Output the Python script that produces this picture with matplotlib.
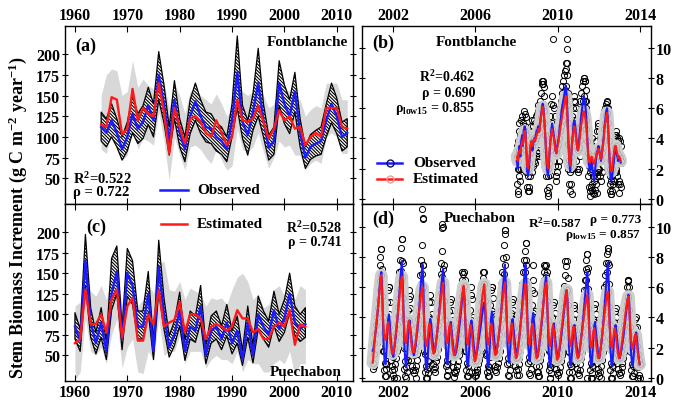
import numpy as np
import matplotlib
matplotlib.use('Agg')
import matplotlib.pyplot as plt
from matplotlib.lines import Line2D

plt.rcParams['font.family'] = ['Liberation Serif', 'DejaVu Serif']
plt.rcParams['font.weight'] = 'bold'
plt.rcParams['mathtext.fontset'] = 'custom'
plt.rcParams['mathtext.rm'] = 'Liberation Serif:bold'
plt.rcParams['mathtext.it'] = 'Liberation Serif:bold'
plt.rcParams['mathtext.bf'] = 'Liberation Serif:bold'
plt.rcParams['hatch.linewidth'] = 0.8

# ---------------- Panel (a): Fontblanche annual ----------------
a_years = list(range(1965, 2013))
a_obs = [112, 105, 120, 105, 85, 100, 128, 110, 118, 138, 120, 175, 140, 95, 145, 105,
         85, 125, 143, 125, 112, 110, 100, 95, 85, 120, 178, 118, 102, 130, 165, 120,
         87, 95, 165, 140, 125, 155, 105, 75, 88, 92, 95, 120, 140, 125, 100, 105]
a_est = [115, 112, 148, 145, 103, 110, 158, 120, 135, 128, 125, 165, 130, 80, 135, 112,
         92, 122, 125, 118, 105, 100, 120, 105, 90, 100, 145, 120, 118, 122, 138, 118,
         98, 110, 132, 120, 125, 110, 112, 90, 100, 105, 100, 135, 135, 135, 112, 110]
a_obs_hi = [130, 122, 140, 122, 100, 118, 150, 128, 138, 160, 140, 203, 163, 112, 168, 122,
            100, 145, 165, 145, 130, 128, 117, 112, 100, 140, 222, 138, 120, 152, 207, 140,
            102, 112, 192, 163, 145, 178, 122, 88, 103, 108, 112, 140, 165, 147, 118, 122]
a_obs_lo = [95, 88, 100, 88, 72, 83, 105, 92, 98, 115, 100, 145, 117, 78, 122, 88,
            70, 104, 120, 104, 94, 92, 83, 79, 70, 100, 135, 98, 78, 108, 125, 100,
            72, 79, 138, 116, 104, 130, 88, 62, 73, 77, 79, 100, 117, 104, 83, 88]
a_est_hi = [150, 175, 182, 180, 150, 155, 192, 160, 170, 162, 158, 185, 165, 135, 165, 150,
            128, 155, 158, 150, 145, 140, 152, 140, 125, 135, 175, 155, 150, 155, 168, 150,
            135, 140, 165, 158, 155, 145, 145, 125, 133, 138, 135, 165, 165, 165, 145, 145]
a_est_lo = [85, 80, 110, 105, 72, 78, 118, 85, 98, 95, 90, 130, 95, 48, 100, 78,
            60, 88, 90, 85, 75, 68, 85, 72, 60, 65, 110, 85, 82, 88, 105, 82,
            62, 75, 95, 88, 90, 78, 78, 60, 68, 72, 68, 100, 105, 100, 80, 80]

# ---------------- Panel (c): Puechabon annual ----------------
c_years = list(range(1960, 2005))
c_obs = [85, 68, 165, 90, 65, 90, 55, 125, 152, 70, 150, 135, 85, 85, 125, 55, 158, 100,
         60, 75, 105, 55, 85, 80, 110, 50, 80, 85, 70, 90, 65, 80, 45, 90, 50, 100, 85, 75,
         105, 82, 95, 125, 90, 82, 88]
c_est = [65, 70, 130, 88, 88, 100, 78, 118, 130, 72, 110, 120, 68, 68, 100, 88, 130, 85,
         90, 93, 115, 78, 100, 100, 95, 70, 85, 88, 85, 80, 85, 105, 95, 95, 78, 82, 70, 70,
         85, 90, 85, 105, 63, 88, 85]
c_obs_hi = [102, 82, 197, 108, 78, 108, 67, 168, 183, 84, 180, 165, 104, 104, 152, 66, 190, 120,
            74, 92, 127, 68, 104, 98, 135, 62, 98, 104, 86, 112, 80, 98, 56, 110, 62, 122, 104, 92,
            128, 100, 118, 150, 110, 100, 108]
c_obs_lo = [70, 55, 135, 72, 52, 72, 45, 105, 125, 57, 122, 112, 70, 70, 102, 45, 128, 82,
            48, 62, 86, 44, 70, 66, 90, 40, 65, 70, 57, 74, 52, 65, 38, 72, 41, 82, 70, 60,
            86, 67, 78, 102, 74, 67, 72]
c_est_hi = [110, 115, 155, 128, 122, 135, 118, 145, 150, 112, 130, 140, 110, 118, 138, 125, 160, 165,
            130, 128, 140, 118, 132, 128, 125, 110, 120, 118, 120, 112, 130, 145, 150, 140, 118, 125,
            108, 112, 130, 135, 122, 140, 118, 135, 130]
c_est_lo = [20, 30, 95, 55, 50, 60, 40, 75, 95, 35, 60, 70, 30, 28, 55, 45, 95, 50,
            55, 55, 75, 40, 55, 55, 55, 35, 45, 50, 45, 45, 40, 55, 30, 45, 40, 40,
            30, 30, 40, 45, 40, 55, 25, 40, 40]

# ---------------- Panel (b): Fontblanche, half-monthly from 2008 ----------------
b_start = 2008.0
b_obs = [2.5, 2.0, 3.0, 3.5, 2.8, 3.8, 4.2, 3.5, 4.5, 4.8, 4.6, 3.2, 1.8, 1.5, 2.0, 2.8, 3.5, 3.8, 3.2, 3.6, 4.0, 3.8, 4.2, 4.5,
         4.6, 4.8, 4.5, 5.0, 5.5, 5.9, 6.3, 6.0, 5.2, 4.2, 3.0, 2.0, 1.5, 2.0, 3.0, 3.8, 4.5, 5.0, 4.6, 4.2, 3.8, 3.2, 3.0, 3.5,
         3.8, 4.2, 4.8, 5.2, 5.8, 6.2, 6.5, 6.8, 7.2, 7.5, 6.8, 5.5, 3.8, 2.5, 1.8, 2.5, 3.5, 4.2, 5.0, 5.2, 4.8, 4.2, 3.5, 3.2,
         3.5, 4.2, 4.8, 5.5, 6.0, 6.5, 6.8, 6.5, 6.0, 5.2, 4.0, 3.0, 2.2, 1.8, 2.0, 2.5, 2.0, 1.5, 1.2, 1.8, 2.5, 3.0, 3.2, 3.5,
         3.2, 2.8, 2.5, 3.0, 3.5, 4.0, 4.8, 5.2, 5.8, 6.0, 5.2, 3.8, 2.5, 1.5, 1.2, 1.5, 2.0, 2.5, 3.2, 3.5, 3.0, 2.8, 2.5, 2.8,
         2.6, 2.4]
b_est = [2.8, 2.5, 3.0, 3.2, 3.0, 3.5, 3.8, 3.6, 4.2, 4.5, 4.2, 3.2, 2.2, 2.0, 2.4, 3.0, 3.6, 3.8, 3.5, 3.8, 4.0, 3.8, 4.0, 4.2,
         4.4, 4.6, 4.4, 4.9, 5.4, 5.8, 6.1, 5.8, 5.0, 4.2, 3.2, 2.4, 2.0, 2.4, 3.2, 3.8, 4.3, 4.6, 4.3, 4.0, 3.6, 3.2, 3.0, 3.4,
         3.6, 4.0, 4.5, 4.8, 5.2, 5.6, 5.9, 6.2, 6.5, 6.8, 6.2, 5.0, 3.6, 2.6, 2.2, 2.8, 3.5, 4.0, 4.6, 4.8, 4.5, 4.0, 3.5, 3.2,
         3.4, 3.9, 4.4, 4.9, 5.3, 5.6, 5.8, 5.6, 5.2, 4.6, 3.8, 3.0, 2.5, 2.4, 2.6, 2.8, 2.6, 2.4, 2.3, 2.5, 2.8, 3.0, 3.1, 3.3,
         3.1, 2.8, 2.6, 3.0, 3.4, 3.9, 4.6, 5.0, 5.5, 5.7, 5.0, 3.8, 2.6, 2.0, 1.8, 2.0, 2.6, 3.0, 3.4, 3.5, 3.2, 3.0, 2.7, 2.8,
         2.7, 2.5]
b_obs_hi = [3.5, 3.8, 4.5, 5.0, 4.2, 5.2, 5.5, 5.0, 5.8, 5.6, 5.4, 4.5, 3.0, 2.5, 3.2, 4.0, 4.8, 5.2, 4.5, 4.8, 5.2, 5.0, 5.5, 5.6,
            5.8, 6.2, 6.0, 6.5, 7.0, 7.6, 7.8, 7.4, 6.8, 5.8, 4.5, 3.2, 2.8, 3.4, 4.5, 5.5, 6.3, 6.8, 6.2, 6.0, 5.5, 4.8, 4.5, 5.0,
            5.0, 5.5, 6.0, 6.5, 7.0, 7.5, 7.8, 8.2, 8.5, 9.0, 8.2, 7.0, 5.5, 4.5, 3.5, 4.5, 5.5, 6.0, 6.5, 6.8, 6.4, 6.0, 5.0, 4.5,
            5.0, 5.8, 6.5, 7.0, 7.5, 7.8, 8.0, 7.8, 7.2, 6.5, 5.5, 4.5, 3.5, 3.0, 3.5, 4.0, 3.5, 3.0, 2.5, 3.0, 3.8, 4.5, 4.8, 5.0,
            4.5, 4.0, 3.8, 4.2, 4.8, 5.2, 5.8, 6.0, 6.3, 6.5, 6.0, 5.0, 3.5, 2.5, 2.2, 2.5, 3.0, 3.5, 4.2, 4.5, 4.2, 4.0, 3.8, 4.0,
            3.8, 3.5]
b_obs_lo = [1.0, 0.5, 1.5, 2.0, 1.2, 2.0, 2.8, 2.0, 3.0, 3.2, 3.0, 1.8, 0.8, 0.5, 0.8, 1.5, 2.2, 2.5, 1.8, 2.2, 2.5, 2.4, 2.8, 3.0,
            3.0, 3.2, 2.8, 3.4, 3.8, 4.2, 4.6, 4.2, 3.5, 2.6, 1.5, 0.6, 0.4, 0.8, 1.6, 2.3, 3.0, 3.2, 3.0, 2.5, 2.2, 1.5, 1.2, 1.8,
            2.2, 2.5, 3.2, 3.5, 4.2, 4.8, 5.0, 5.2, 5.5, 5.8, 5.0, 3.8, 2.0, 1.0, 0.5, 1.0, 2.0, 2.5, 3.2, 3.5, 3.0, 2.5, 2.0, 1.8,
            2.0, 2.8, 3.2, 3.8, 4.5, 5.0, 5.2, 5.0, 4.5, 3.8, 2.5, 1.5, 0.8, 0.5, 0.8, 1.0, 0.6, 0.4, 0.3, 0.6, 1.0, 1.5, 1.8, 2.0,
            2.0, 1.5, 1.2, 1.8, 2.2, 2.5, 3.2, 3.8, 4.2, 4.5, 3.8, 2.2, 1.0, 0.5, 0.3, 0.5, 1.0, 1.2, 1.8, 2.0, 1.8, 1.5, 1.0, 1.2,
            1.0, 0.8]
b_out_t = [2009.78, 2010.43, 2010.46, 2010.43, 2010.42, 2009.25, 2009.30, 2011.30, 2011.32, 2012.40,
           2008.05, 2008.60, 2009.55, 2010.70, 2011.55, 2011.90, 2012.60, 2013.00]
b_out_v = [10.6, 10.6, 9.9, 9.0, 8.6, 7.8, 7.6, 8.0, 7.8, 6.4,
           0.3, 0.5, 0.2, 0.3, 0.2, 0.4, 0.3, 0.4]

# ---------------- Panel (d): Puechabon, half-monthly from 2001 ----------------
d_start = 2001.0
d_obs = [
    1.8, 2.0, 2.4, 2.9, 3.3, 3.9, 4.5, 5.2, 6.0, 6.6, 7.0, 5.9, 3.6, 1.8, 1.0, 0.9, 1.8, 3.0, 3.9, 4.2, 3.5, 2.6, 2.0, 1.6,
    1.4, 1.9, 2.3, 2.8, 3.4, 4.0, 4.8, 5.6, 6.4, 7.1, 7.7, 6.2, 4.0, 2.0, 1.1, 0.7, 1.4, 2.6, 3.5, 3.8, 3.2, 2.7, 2.1, 1.7,
    1.5, 1.8, 2.1, 2.7, 3.1, 3.8, 4.4, 5.3, 6.2, 6.9, 7.5, 6.0, 3.5, 1.6, 0.8, 0.6, 1.2, 2.4, 3.3, 3.9, 3.6, 2.9, 2.3, 1.9,
    1.7, 2.0, 2.5, 2.9, 3.5, 4.1, 4.7, 5.4, 6.1, 6.7, 7.2, 6.0, 4.1, 2.2, 1.2, 0.9, 1.6, 2.7, 3.4, 3.7, 3.1, 2.5, 2.0, 1.7,
    1.5, 1.7, 2.0, 2.4, 2.9, 3.4, 3.9, 4.5, 5.1, 5.6, 6.0, 5.2, 3.4, 1.8, 1.0, 0.8, 1.5, 2.6, 3.4, 3.8, 3.3, 2.6, 2.0, 1.6,
    1.4, 1.6, 1.9, 2.3, 2.7, 3.1, 3.5, 4.0, 4.4, 4.8, 5.0, 4.4, 3.0, 1.6, 0.8, 0.7, 1.6, 3.0, 4.0, 4.4, 3.7, 2.9, 2.2, 1.8,
    1.6, 2.0, 2.4, 2.8, 3.3, 3.9, 4.6, 5.4, 6.2, 6.9, 7.5, 6.3, 4.2, 2.3, 1.3, 1.0, 1.7, 2.8, 3.6, 3.9, 3.3, 2.7, 2.1, 1.7,
    1.5, 1.9, 2.3, 2.8, 3.4, 4.0, 4.7, 5.5, 6.3, 7.0, 7.5, 6.4, 4.3, 2.4, 1.4, 1.1, 1.8, 3.0, 3.9, 4.3, 3.6, 2.8, 2.1, 1.6,
    1.4, 1.7, 2.1, 2.6, 3.1, 3.7, 4.3, 5.0, 5.7, 6.3, 6.8, 5.6, 3.6, 1.8, 0.9, 0.7, 1.4, 2.5, 3.3, 3.6, 3.0, 2.4, 1.9, 1.5,
    1.3, 1.6, 2.0, 2.4, 2.9, 3.4, 3.9, 4.5, 5.0, 5.5, 5.8, 5.0, 3.3, 1.7, 0.9, 0.8, 1.5, 2.5, 3.2, 3.5, 3.0, 2.4, 1.9, 1.5,
    1.4, 1.8, 2.2, 2.7, 3.2, 3.8, 4.4, 5.1, 5.8, 6.5, 7.0, 5.9, 3.8, 1.9, 1.0, 0.8, 1.5, 2.6, 3.4, 3.7, 3.1, 2.5, 1.9, 1.5,
    1.3, 1.7, 2.1, 2.6, 3.2, 3.9, 4.6, 5.4, 6.2, 7.0, 7.6, 6.2, 3.9, 1.9, 1.0, 0.8, 1.5, 2.5, 3.2, 3.5, 3.0, 2.4, 1.9, 1.5,
    1.3, 1.6, 1.9, 2.3, 2.7, 3.2, 3.7, 4.2, 4.7, 5.2, 5.5, 4.8, 3.2, 1.7, 0.9, 0.8, 1.4, 2.2, 2.8, 3.0, 2.5, 1.9, 1.3, 0.9]
d_est = [
    1.0, 1.6, 2.3, 2.9, 3.5, 4.0, 4.6, 5.2, 5.8, 6.4, 6.8, 5.4, 4.0, 3.0, 2.6, 2.5, 2.9, 3.4, 3.7, 3.4, 2.8, 2.2, 1.8, 1.6,
    1.7, 2.0, 2.5, 3.0, 3.6, 4.1, 4.7, 5.3, 5.9, 6.4, 6.7, 5.3, 3.9, 2.9, 2.4, 2.3, 2.8, 3.4, 3.8, 3.5, 2.9, 2.3, 1.9, 1.7,
    1.7, 2.0, 2.4, 2.9, 3.4, 3.9, 4.4, 4.9, 5.4, 5.8, 6.0, 4.9, 3.6, 2.7, 2.2, 2.1, 2.6, 3.2, 3.6, 3.4, 2.8, 2.2, 1.8, 1.6,
    1.7, 2.1, 2.5, 3.0, 3.5, 4.0, 4.5, 5.0, 5.6, 6.0, 6.3, 5.1, 3.8, 2.9, 2.4, 2.3, 2.8, 3.3, 3.6, 3.3, 2.7, 2.1, 1.7, 1.5,
    1.6, 2.0, 2.4, 2.9, 3.4, 3.9, 4.4, 4.9, 5.4, 5.8, 6.1, 5.0, 3.7, 2.8, 2.3, 2.2, 2.7, 3.2, 3.5, 3.2, 2.6, 2.0, 1.4, 1.1,
    1.2, 1.7, 2.2, 2.8, 3.3, 3.9, 4.4, 5.0, 5.5, 5.9, 6.2, 5.1, 3.8, 2.8, 2.3, 2.2, 2.7, 3.2, 3.6, 3.3, 2.7, 2.1, 1.7, 1.5,
    1.6, 2.0, 2.4, 2.9, 3.4, 3.9, 4.5, 5.0, 5.6, 6.0, 6.3, 5.2, 3.9, 2.9, 2.4, 2.3, 2.8, 3.3, 3.6, 3.3, 2.7, 2.1, 1.6, 1.3,
    1.4, 1.8, 2.3, 2.8, 3.3, 3.9, 4.4, 5.0, 5.5, 5.9, 6.2, 5.1, 3.8, 2.8, 2.3, 2.2, 2.7, 3.2, 3.6, 3.3, 2.7, 2.1, 1.6, 1.3,
    1.4, 1.8, 2.3, 2.8, 3.4, 3.9, 4.5, 5.0, 5.6, 6.0, 6.3, 5.1, 3.8, 2.8, 2.2, 2.1, 2.6, 3.1, 3.5, 3.2, 2.6, 2.0, 1.5, 1.2,
    1.3, 1.7, 2.2, 2.7, 3.2, 3.7, 4.2, 4.7, 5.2, 5.6, 5.8, 4.8, 3.6, 2.7, 2.2, 2.1, 2.6, 3.1, 3.4, 3.1, 2.5, 1.9, 1.5, 1.3,
    1.4, 1.8, 2.2, 2.7, 3.1, 3.6, 4.0, 4.5, 4.9, 5.3, 5.5, 4.6, 3.5, 2.6, 2.1, 2.0, 2.5, 3.0, 3.3, 3.0, 2.4, 1.9, 1.5, 1.3,
    1.4, 1.8, 2.2, 2.7, 3.2, 3.7, 4.2, 4.7, 5.1, 5.5, 5.7, 4.7, 3.5, 2.6, 2.1, 2.0, 2.5, 3.0, 3.3, 3.0, 2.4, 1.9, 1.5, 1.3,
    1.4, 1.8, 2.2, 2.6, 3.1, 3.5, 4.0, 4.5, 4.9, 5.2, 5.4, 4.5, 3.4, 2.5, 2.0, 1.9, 2.3, 2.7, 2.9, 2.6, 2.1, 1.6, 1.2, 0.9]
d_obs_hi = [
    2.8, 3.2, 3.8, 4.3, 4.8, 5.4, 6.0, 6.8, 7.5, 8.0, 8.5, 7.2, 5.0, 3.0, 2.2, 2.5, 3.8, 5.0, 5.8, 6.0, 5.0, 3.8, 3.0, 2.6,
    2.5, 3.0, 3.5, 4.0, 4.7, 5.4, 6.2, 7.0, 7.8, 8.6, 9.2, 7.6, 5.4, 3.2, 2.2, 2.0, 3.2, 4.5, 5.2, 5.4, 4.6, 3.8, 3.2, 2.8,
    2.6, 3.0, 3.4, 4.0, 4.5, 5.2, 5.9, 6.8, 7.8, 8.8, 10.5, 7.5, 5.0, 2.8, 1.8, 1.6, 2.8, 4.0, 5.0, 5.5, 5.0, 4.2, 3.5, 3.0,
    2.8, 3.2, 3.8, 4.3, 4.9, 5.5, 6.2, 6.9, 7.6, 8.4, 10.0, 7.5, 5.5, 3.5, 2.4, 2.1, 3.2, 4.4, 5.0, 5.2, 4.5, 3.8, 3.2, 2.8,
    2.6, 2.9, 3.3, 3.8, 4.3, 4.8, 5.4, 6.0, 6.5, 6.9, 7.0, 6.5, 4.8, 3.2, 2.2, 2.0, 3.2, 4.5, 5.5, 6.0, 5.2, 4.0, 3.2, 2.7,
    2.5, 2.8, 3.2, 3.6, 4.1, 4.6, 5.1, 5.6, 6.1, 6.6, 7.0, 6.2, 4.5, 2.8, 1.8, 1.8, 3.2, 4.8, 5.8, 6.0, 5.3, 4.2, 3.4, 2.9,
    2.8, 3.2, 3.7, 4.2, 4.8, 5.5, 6.2, 7.0, 7.9, 8.8, 9.8, 8.0, 5.6, 3.5, 2.4, 2.2, 3.2, 4.3, 5.0, 5.2, 4.5, 3.8, 3.2, 2.8,
    2.7, 3.1, 3.6, 4.2, 4.8, 5.5, 6.2, 7.0, 7.8, 8.4, 8.9, 7.8, 5.8, 3.8, 2.6, 2.4, 3.4, 4.8, 5.8, 6.5, 5.6, 4.4, 3.4, 2.8,
    2.5, 2.9, 3.4, 3.9, 4.5, 5.1, 5.8, 6.5, 7.0, 7.4, 7.5, 7.0, 5.0, 3.0, 2.0, 1.8, 2.8, 4.0, 4.8, 5.0, 4.3, 3.5, 2.9, 2.5,
    2.4, 2.8, 3.3, 3.8, 4.3, 4.9, 5.5, 6.1, 6.8, 7.4, 7.7, 6.6, 4.8, 3.0, 2.0, 1.9, 2.8, 3.9, 4.6, 4.8, 4.2, 3.5, 2.9, 2.5,
    2.5, 2.9, 3.4, 3.9, 4.5, 5.1, 5.8, 6.5, 7.2, 7.8, 8.2, 7.3, 5.2, 3.1, 2.1, 1.9, 2.8, 3.9, 4.6, 4.9, 4.2, 3.5, 2.9, 2.5,
    2.4, 2.8, 3.3, 3.8, 4.5, 5.2, 6.0, 6.8, 7.6, 8.2, 8.6, 7.5, 5.2, 3.0, 2.0, 1.8, 2.7, 3.7, 4.4, 4.6, 4.0, 3.4, 2.8, 2.4,
    2.3, 2.7, 3.1, 3.5, 4.0, 4.5, 5.0, 5.5, 6.0, 6.4, 6.5, 6.0, 4.4, 2.8, 1.9, 1.8, 2.5, 3.3, 3.9, 4.0, 3.4, 2.8, 2.0, 1.5]
d_obs_lo = [
    0.6, 0.8, 1.1, 1.5, 1.8, 2.3, 2.8, 3.4, 4.1, 4.7, 5.0, 3.9, 1.8, 0.5, 0.1, 0.1, 0.6, 1.5, 2.2, 2.5, 1.9, 1.2, 0.8, 0.5,
    0.2, 0.6, 0.9, 1.3, 1.8, 2.3, 3.0, 3.8, 4.5, 5.2, 5.7, 4.4, 2.2, 0.6, 0.1, 0.0, 0.4, 1.2, 1.9, 2.2, 1.7, 1.2, 0.8, 0.5,
    0.3, 0.5, 0.8, 1.2, 1.6, 2.2, 2.7, 3.5, 4.4, 5.0, 5.5, 4.2, 1.8, 0.4, 0.0, 0.0, 0.3, 1.1, 1.7, 2.2, 2.0, 1.4, 0.9, 0.6,
    0.4, 0.7, 1.1, 1.4, 1.9, 2.4, 3.0, 3.6, 4.3, 4.9, 5.2, 4.3, 2.4, 0.8, 0.2, 0.1, 0.5, 1.3, 1.9, 2.2, 1.7, 1.1, 0.7, 0.4,
    0.3, 0.5, 0.8, 1.1, 1.5, 1.9, 2.3, 2.9, 3.4, 3.9, 4.3, 3.6, 1.8, 0.5, 0.1, 0.1, 0.4, 1.2, 1.9, 2.2, 1.8, 1.2, 0.7, 0.4,
    0.2, 0.4, 0.6, 0.9, 1.2, 1.5, 1.9, 2.3, 2.7, 3.0, 3.3, 2.8, 1.5, 0.4, 0.1, 0.1, 0.5, 1.4, 2.3, 2.7, 2.1, 1.4, 0.8, 0.5,
    0.4, 0.7, 1.0, 1.3, 1.8, 2.3, 2.9, 3.6, 4.4, 5.1, 5.5, 4.6, 2.6, 0.9, 0.2, 0.1, 0.5, 1.3, 2.0, 2.3, 1.8, 1.2, 0.8, 0.5,
    0.2, 0.6, 0.9, 1.3, 1.8, 2.4, 3.0, 3.7, 4.5, 5.2, 5.6, 4.7, 2.7, 1.0, 0.3, 0.2, 0.6, 1.5, 2.2, 2.6, 2.0, 1.3, 0.8, 0.4,
    0.1, 0.4, 0.8, 1.2, 1.6, 2.1, 2.7, 3.3, 3.9, 4.6, 5.0, 3.9, 2.0, 0.5, 0.0, 0.0, 0.3, 1.1, 1.7, 2.0, 1.6, 1.0, 0.6, 0.3,
    0.2, 0.4, 0.7, 1.1, 1.5, 1.9, 2.3, 2.8, 3.3, 3.8, 4.1, 3.4, 1.8, 0.4, 0.0, 0.0, 0.4, 1.1, 1.7, 2.0, 1.6, 1.0, 0.6, 0.3,
    0.2, 0.5, 0.9, 1.3, 1.7, 2.2, 2.8, 3.4, 4.0, 4.7, 5.1, 4.1, 2.1, 0.5, 0.0, 0.0, 0.3, 1.1, 1.8, 2.1, 1.6, 1.0, 0.6, 0.3,
    0.1, 0.4, 0.8, 1.2, 1.7, 2.3, 2.9, 3.6, 4.4, 5.1, 5.5, 4.4, 2.2, 0.5, 0.0, 0.0, 0.3, 1.1, 1.6, 1.9, 1.5, 1.0, 0.6, 0.3,
    0.2, 0.4, 0.7, 1.0, 1.3, 1.7, 2.1, 2.6, 3.0, 3.5, 3.8, 3.2, 1.8, 0.5, 0.1, 0.1, 0.3, 0.9, 1.4, 1.6, 1.2, 0.7, 0.2, 0.0]
d_out_t = [2003.43, 2003.44, 2004.38, 2004.40, 2002.43, 2007.43, 2007.45, 2008.45, 2012.43, 2012.45,
           2011.40, 2001.42, 2005.35, 2006.38, 2010.35, 2009.35, 2013.40, 2001.80, 2002.80, 2006.80,
           2008.80, 2002.05, 2002.20, 2003.10, 2004.95, 2006.00, 2008.10, 2009.10, 2011.42, 2012.10, 2013.90]
d_out_v = [11.2, 10.6, 10.2, 9.9, 9.2, 9.8, 9.5, 8.9, 8.6, 8.4,
           8.2, 8.5, 7.0, 7.0, 7.7, 7.5, 6.5, 6.0, 5.8, 6.0,
           7.5, 0.0, 0.0, 0.0, 0.05, 0.1, 0.2, 0.1, 0.0, 0.0, 0.0]

# ---------------- Figure ----------------
W, H = 685, 406
fig = plt.figure(figsize=(W / 100, H / 100), dpi=100)
L1, R1 = 65 / W, 353 / W
L2, R2 = 362 / W, 651 / W
T, M, B = 1 - 27 / H, 1 - 205 / H, 1 - 382 / H
ax_a = fig.add_axes([L1, M, R1 - L1, T - M])
ax_c = fig.add_axes([L1, B, R1 - L1, M - B])
ax_b = fig.add_axes([L2, M, R2 - L2, T - M])
ax_d = fig.add_axes([L2, B, R2 - L2, M - B])

BLUE = '#1a1aff'
RED = '#ff1a1a'
TFS = 11.5


def annual(ax, years, obs, est, ohi, olo, ghi, glo):
    ax.fill_between(years, glo, ghi, color='#d8d8d8', lw=0, zorder=1)
    ax.fill_between(years, olo, ohi, facecolor='white', edgecolor='black',
                    hatch='\\' * 10, lw=0.9, zorder=2)
    ax.plot(years, obs, color=BLUE, lw=1.7, zorder=3)
    ax.plot(years, est, color=RED, lw=1.7, zorder=4)
    ax.set_xlim(1958.1, 2013.1)
    ax.set_ylim(19, 234)
    ax.set_xticks(range(1960, 2011, 10))
    ax.set_yticks(range(50, 201, 25))
    ax.tick_params(axis='x', which='both', top=True, bottom=True, direction='in',
                   length=4, width=0.8, labelsize=TFS, pad=2)
    ax.tick_params(axis='y', left=True, right=True, direction='inout', length=5,
                   width=0.8, labelsize=TFS, pad=1)


def daily(ax, start, obs, est, hi, lo, out_t, out_v):
    t = start + (np.arange(len(obs)) + 0.5) / 24.0
    ck = dict(ls='none', marker='o', ms=4.4, mfc='none', mec='black', mew=0.7, zorder=2)
    ax.plot(t, hi, **ck)
    ax.plot(t, lo, **ck)
    ax.plot(t, obs, **ck)
    ax.plot(out_t, out_v, **ck)
    ax.plot(t, est, color='#cdcdcd', lw=9, zorder=3, solid_capstyle='round')
    ax.plot(t, est, ls='none', marker='o', ms=4.2, mfc='#d2d2d2', mec='#a5a5a5',
            mew=0.5, zorder=3)
    ax.plot(t, obs, color=BLUE, lw=1.5, zorder=4)
    ax.plot(t, est, color=RED, lw=1.5, zorder=5)
    ax.set_xlim(2000.5, 2014.53)
    ax.set_xticks([2002, 2006, 2010, 2014])
    ax.set_yticks(range(0, 11, 2))
    ax.tick_params(axis='x', which='major', top=True, bottom=True, direction='in',
                   length=4, width=0.8, labelsize=TFS, pad=2)
    ax.tick_params(axis='y', left=True, right=True, direction='inout', length=5,
                   width=0.8, labelsize=TFS, pad=1, labelleft=False, labelright=True)


annual(ax_a, a_years, a_obs, a_est, a_obs_hi, a_obs_lo, a_est_hi, a_est_lo)
annual(ax_c, c_years, c_obs, c_est, c_obs_hi, c_obs_lo, c_est_hi, c_est_lo)
ax_a.tick_params(axis='x', labeltop=True, labelbottom=False)
ax_c.tick_params(axis='x', labeltop=False, labelbottom=True)

daily(ax_b, b_start, b_obs, b_est, b_obs_hi, b_obs_lo, b_out_t, b_out_v)
daily(ax_d, d_start, d_obs, d_est, d_obs_hi, d_obs_lo, d_out_t, d_out_v)
ax_b.set_ylim(-0.35, 11.45)
ax_d.set_ylim(-0.2, 11.5)
ax_b.tick_params(axis='x', labeltop=True, labelbottom=False)
ax_d.tick_params(axis='x', labeltop=False, labelbottom=True)

for ax in (ax_a, ax_b, ax_c, ax_d):
    for s in ax.spines.values():
        s.set_linewidth(1.0)


def ftext(x, y, s, size=10.5, ha='left', **kw):
    fig.text(x / W, 1 - y / H, s, fontsize=size, ha=ha, va='center',
             fontweight='bold', **kw)


def fline(x1, x2, y, color, marker=None, mfc='none', mec='black'):
    ln = Line2D([x1 / W, x2 / W], [1 - y / H, 1 - y / H], color=color, lw=1.8,
                transform=fig.transFigure)
    fig.add_artist(ln)
    if marker:
        mk = Line2D([(x1 + x2) / 2 / W], [1 - y / H], ls='none', marker=marker,
                    ms=5, mfc=mfc, mec=mec, mew=1.0, transform=fig.transFigure)
        fig.add_artist(mk)


# Panel (a) texts
ftext(75, 46, '(a)', size=13)
ftext(348, 43, 'Fontblanche', ha='right', size=11)
ftext(73, 179, 'R$^{2}$=0.522', size=10.5)
ftext(73, 193, 'ρ = 0.722', size=10.5)
fline(160, 188, 191, BLUE)
ftext(197, 191, 'Observed', size=11)

# Panel (b) texts
ftext(372, 43, '(b)', size=13)
ftext(476, 43, 'Fontblanche', ha='center', size=11)
ftext(475, 77, 'R$^{2}$=0.462', size=10, ha='right')
ftext(475, 93, 'ρ = 0.690', size=10, ha='right')
ftext(475, 109, r'$\rho_{low15}$ = 0.855', size=10, ha='right')
fline(377, 402, 164, BLUE, marker='o', mfc='none', mec='#101050')
ftext(413, 164, 'Observed', size=11)
fline(377, 402, 180, RED, marker='o', mfc='none', mec='#e0a0a0')
ftext(413, 180, 'Estimated', size=11)

# Panel (c) texts
ftext(86, 227, '(c)', size=13)
fline(161, 187, 225, RED)
ftext(197, 225, 'Estimated', size=11)
ftext(342, 228, 'R$^{2}$=0.528', size=10, ha='right')
ftext(342, 243, 'ρ = 0.741', size=10, ha='right')
ftext(342, 373, 'Puechabon', ha='right', size=11)

# Panel (d) texts
ftext(372, 219, '(d)', size=13)
ftext(480, 219, 'Puechabon', ha='center', size=11)
ftext(528, 223, 'R$^{2}$=0.587', size=9.5)
ftext(641, 220, 'ρ = 0.773', size=9.5, ha='right')
ftext(641, 236, r'$\rho_{low15}$ = 0.857', size=9.5, ha='right')

# y label
fig.text(18 / W, 1 - 218 / H, r'Stem Biomass Increment (g C m$^{-2}$ year$^{-1}$)',
         rotation=90, fontsize=13, fontweight='bold', ha='center', va='center')

fig.savefig('out.png', dpi=100)
